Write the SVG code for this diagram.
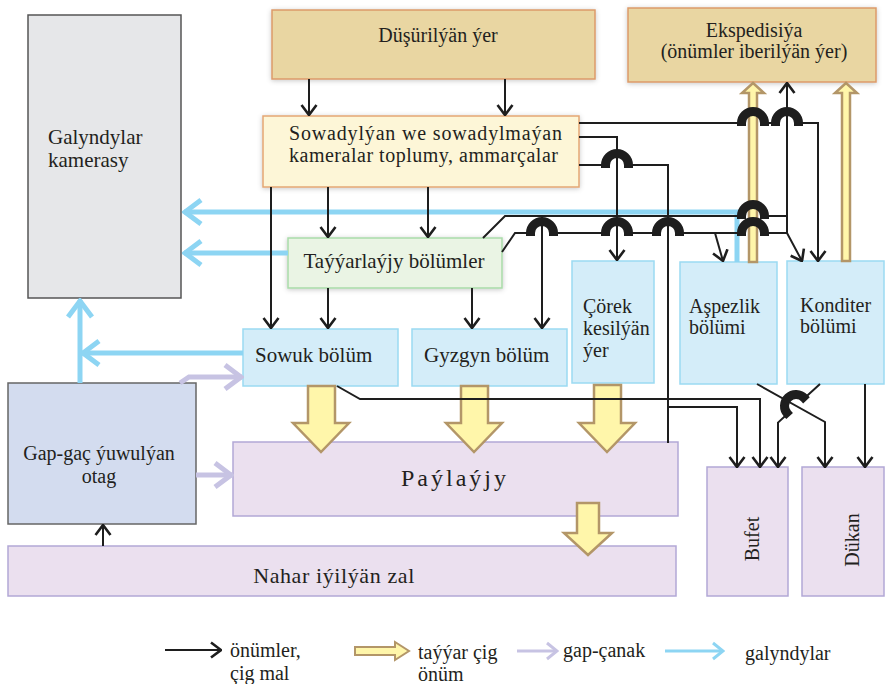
<svg xmlns="http://www.w3.org/2000/svg" xmlns:xlink="http://www.w3.org/1999/xlink" width="885" height="684" viewBox="0 0 885 684">
<style>
.t{font-family:"Liberation Serif","Times New Roman",serif;font-size:20px;fill:#231f20}
.c{text-anchor:middle}
.ln{fill:none;stroke:#1e1e1e;stroke-width:2}
.la{marker-end:url(#ab)}
.bl{fill:none;stroke:#8dd5f3;stroke-width:5}
.lv{fill:none;stroke:#c7c3e3;stroke-width:5}
.ya{fill:#fff6aa;stroke:#b39668;stroke-width:2.5;stroke-linejoin:miter}
.yb{fill:#ebe0ef;stroke:#b2a8d6;stroke-width:1.5}
.bb{fill:#d4edf9;stroke:#9bdaf2;stroke-width:1.5}
.tan{fill:#e9d6a2;stroke:#dc9a6a;stroke-width:1.5}
</style>
<defs>
<filter id="sh" x="-10%" y="-10%" width="120%" height="130%"><feDropShadow dx="0" dy="1" stdDeviation="2.5" flood-color="#000" flood-opacity="0.22"/></filter>
<marker id="ab" markerUnits="userSpaceOnUse" viewBox="0 0 12 18" refX="11" refY="9" markerWidth="12" markerHeight="18" orient="auto"><path d="M1,1.5 L11,9 L1,16.5" fill="none" stroke="#1e1e1e" stroke-width="2.6"/></marker>
<marker id="abl" markerUnits="userSpaceOnUse" viewBox="0 0 22 28" refX="20" refY="14" markerWidth="22" markerHeight="28" orient="auto"><path d="M3,2 L19,14 L3,26" fill="none" stroke="#8dd5f3" stroke-width="5"/></marker>
<marker id="alv" markerUnits="userSpaceOnUse" viewBox="0 0 22 28" refX="20" refY="14" markerWidth="22" markerHeight="28" orient="auto"><path d="M3,2 L19,14 L3,26" fill="none" stroke="#c7c3e3" stroke-width="5"/></marker>
<marker id="ablS" markerUnits="userSpaceOnUse" viewBox="0 0 14 20" refX="12" refY="10" markerWidth="14" markerHeight="20" orient="auto"><path d="M2,2 L12,10 L2,18" fill="none" stroke="#8dd5f3" stroke-width="3"/></marker>
<marker id="alvS" markerUnits="userSpaceOnUse" viewBox="0 0 14 20" refX="12" refY="10" markerWidth="14" markerHeight="20" orient="auto"><path d="M2,2 L12,10 L2,18" fill="none" stroke="#c7c3e3" stroke-width="3"/></marker>
<path id="hop" d="M-16,3 V0 A16,16 0 0 1 16,0 V3 H7 V0 A7,7 0 0 0 -7,0 V3 Z" fill="#1e1e1e"/>
</defs>
<rect width="885" height="684" fill="#fff"/>

<g id="galyndylar-kamerasy">
<rect x="28" y="15" width="153" height="283" fill="#e6e7e9" stroke="#555" stroke-width="1.5"/>
<text class="t" x="48" y="144" style="font-size:21px">Galyndylar</text>
<text class="t" x="48" y="167" style="font-size:21px">kamerasy</text>
</g>
<g id="dusurilyan-yer">
<rect class="tan" x="272" y="10" width="323" height="69" filter="url(#sh)"/>
<text class="t c" x="438" y="42">Düşürilýän ýer</text>
</g>
<g id="ekspedisiya">
<rect class="tan" x="628" y="8" width="248" height="74" filter="url(#sh)"/>
<text class="t c" x="754" y="37">Ekspedisiýa</text>
<text class="t c" x="754" y="58">(önümler iberilýän ýer)</text>
</g>
<g id="sowadylyan">
<rect x="263" y="116" width="316" height="71" fill="#fdf6d7" stroke="#e3a774" stroke-width="1.5" filter="url(#sh)"/>
<text class="t" x="289" y="140" textLength="273" lengthAdjust="spacing">Sowadylýan we sowadylmaýan</text>
<text class="t" x="289" y="162" textLength="269" lengthAdjust="spacing">kameralar toplumy, ammarçalar</text>
</g>
<g id="tayyarlayjy">
<rect x="288" y="238" width="214" height="50" fill="#eaf4e4" stroke="#a9dba9" stroke-width="1.5" filter="url(#sh)"/>
<text class="t c" x="394" y="268" style="font-size:21px">Taýýarlaýjy bölümler</text>
</g>
<g id="sowuk">
<rect class="bb" x="243" y="329" width="155" height="57"/>
<text class="t" x="255" y="362" style="font-size:21px">Sowuk bölüm</text>
</g>
<g id="gyzgyn">
<rect class="bb" x="412" y="329" width="155" height="57"/>
<text class="t" x="424" y="362" style="font-size:21px">Gyzgyn bölüm</text>
</g>
<g id="corek">
<rect class="bb" x="572" y="261" width="82" height="122"/>
<text class="t" x="583" y="313">Çörek</text>
<text class="t" x="583" y="335">kesilýän</text>
<text class="t" x="583" y="357">ýer</text>
</g>
<g id="aspezlik">
<rect class="bb" x="680" y="262" width="97" height="122"/>
<text class="t" x="689" y="313">Aşpezlik</text>
<text class="t" x="689" y="334">bölümi</text>
</g>
<g id="konditer">
<rect class="bb" x="787" y="261" width="97" height="123"/>
<text class="t" x="800" y="312">Konditer</text>
<text class="t" x="800" y="333">bölümi</text>
</g>
<g id="gap-gac">
<rect x="8" y="383" width="188" height="141" fill="#d3dcef" stroke="#666" stroke-width="1.5"/>
<text class="t c" x="99" y="460">Gap-gaç ýuwulýan</text>
<text class="t c" x="99" y="483">otag</text>
</g>
<g id="paylayjy">
<rect class="yb" x="233" y="442" width="445" height="74"/>
<text class="t c" x="455" y="486" style="font-size:24px;letter-spacing:3px">Paýlaýjy</text>
</g>
<g id="nahar">
<rect class="yb" x="8" y="546" width="668" height="50"/>
<text class="t c" x="334" y="583" style="font-size:22px;letter-spacing:0.6px">Nahar iýilýän zal</text>
</g>
<g id="bufet">
<rect class="yb" x="707" y="467" width="81" height="129"/>
<text class="t c" transform="translate(759,539) rotate(-90)">Bufet</text>
</g>
<g id="dukan">
<rect class="yb" x="802" y="467" width="82" height="129"/>
<text class="t c" transform="translate(859,540) rotate(-90)">Dükan</text>
</g>

<g id="connectors">
<path class="bl" d="M737,262 V212 H184" marker-end="url(#abl)"/>
<path class="bl" d="M288,253 H184" marker-end="url(#abl)"/>
<path class="bl" d="M243,353 H82" marker-end="url(#abl)"/>
<path class="bl" d="M80,383 V300" marker-end="url(#abl)"/>
<path class="lv" d="M180,383 L189,377 H242" marker-end="url(#alv)"/>
<path class="lv" d="M196,475 H232" marker-end="url(#alv)"/>
<polygon class="ya" points="749,262 749,93 742,93 753,83 764,93 757,93 757,262"/>
<polygon class="ya" points="842,261 842,93 835,93 846,83 857,93 850,93 850,261"/>
<polygon class="ya" points="308,386 335,386 335,423 349,423 321,452 293,423 308,423"/>
<polygon class="ya" points="461,386 488,386 488,423 502,423 474,452 446,423 461,423"/>
<polygon class="ya" points="594,385 621,385 621,423 635,423 607,452 579,423 594,423"/>
<polygon class="ya" points="577,503 599,503 599,533 612,533 588,555 564,533 577,533"/>
<path class="ln la" d="M309,79 V115"/>
<path class="ln la" d="M505,79 V115"/>
<path class="ln la" d="M271,187 V328"/>
<path class="ln la" d="M328,187 V237"/>
<path class="ln la" d="M428,187 V237"/>
<path class="ln la" d="M328,288 V328"/>
<path class="ln la" d="M472,288 V328"/>
<path class="ln" d="M483,238 L505,216 H745 M761,216 H787"/>
<path class="ln la" d="M542,216 V328"/>
<path class="ln la" d="M502,252 L515,233 H534 M550,233 H609 M625,233 H660 M676,233 H745 M761,233 H787 L802,261"/>
<path class="ln la" d="M715,233 L723,261"/>
<path class="ln la" d="M787,233 V83"/>
<path class="ln la" d="M579,123 H745 M761,123 H779 M795,123 H818 V261"/>
<path class="ln la" d="M579,137 H617 V260"/>
<path class="ln" d="M579,165 H609 M625,165 H668 V443"/>
<path class="ln la" d="M668,407 H737 V467"/>
<path class="ln la" d="M337,386 L360,399 H760 V467"/>
<path class="ln la" d="M757,384 L825,422 V467"/>
<path class="ln la" d="M820,384 L801.9,400.6 M790.1,411.4 L778,422.6 V467"/>
<path class="ln la" d="M865,384 V467"/>
<path class="ln la" d="M103,546 V525"/>
<use xlink:href="#hop" x="753" y="123"/>
<use xlink:href="#hop" x="787" y="123"/>
<use xlink:href="#hop" x="617" y="165"/>
<use xlink:href="#hop" x="753" y="216"/>
<use xlink:href="#hop" x="542" y="233"/>
<use xlink:href="#hop" x="617" y="233"/>
<use xlink:href="#hop" x="668" y="233"/>
<use xlink:href="#hop" x="753" y="233"/>
<use xlink:href="#hop" transform="translate(796,406) rotate(-43)"/>
</g>

<g id="legend">
<path class="ln la" d="M165,650 H221"/>
<text class="t" x="230" y="657">önümler,</text>
<text class="t" x="230" y="680">çig mal</text>
<polygon class="ya" style="stroke-width:2" points="355,647 395,647 395,642 409,651 395,660 395,655 355,655"/>
<text class="t" x="418" y="659">taýýar çig</text>
<text class="t" x="418" y="681">önüm</text>
<path d="M517,651 H557" fill="none" stroke="#c7c3e3" stroke-width="3" marker-end="url(#alvS)"/>
<text class="t" x="563" y="657">gap-çanak</text>
<path d="M665,651 H723" fill="none" stroke="#8dd5f3" stroke-width="3" marker-end="url(#ablS)"/>
<text class="t" x="745" y="660">galyndylar</text>
</g>
</svg>
